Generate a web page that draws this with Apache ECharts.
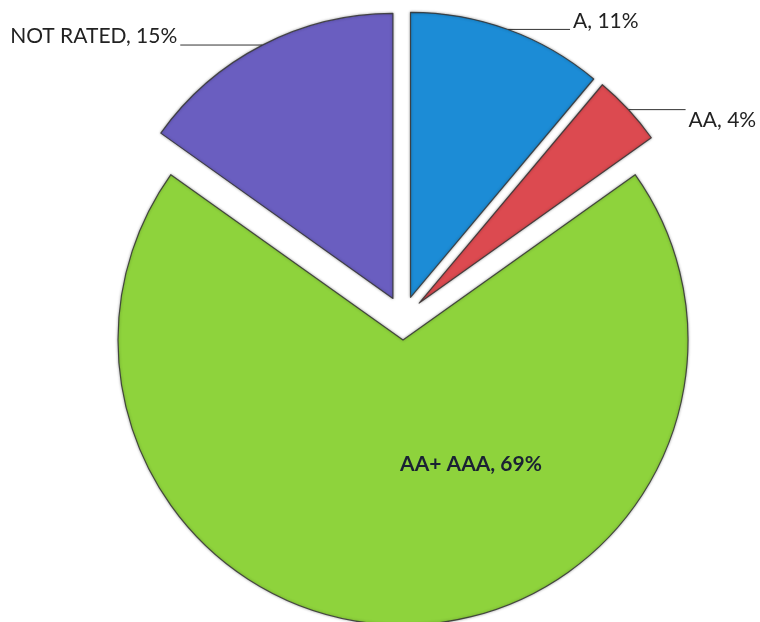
<!DOCTYPE html>
<html>
<head>
<meta charset="utf-8">
<script src="https://cdn.jsdelivr.net/npm/echarts@6/dist/echarts.min.js"></script>
<style>
html,body{margin:0;padding:0;background:#fff;}
#chart{width:760px;height:622px;}
</style>
</head>
<body>
<div id="chart"></div>
<script>
// ---- data ----
const categories = ['A', 'AA', 'AA+ AAA', 'NOT RATED'];
const values = [11, 4, 69, 15];
const colors = ['#1c8cd6', '#dc4a50', '#8ed33c', '#6a5ec0'];

// ---- label layout per slice (layout/style only) ----
// vertical nudge in px: negative = up, positive = down
const labelNudge = [-8, 11, -21, -9];
const labelStyles = [
  {line: {length: 0.1, length2: 62}, label: {}},
  {line: {length: 0.1, length2: 57}, label: {}},
  {line: {show: false}, label: {position: 'inside', padding: [0, 0, 0, 136]}},
  {line: {length: 0.1, length2: 82}, label: {}}
];

const chart = echarts.init(document.getElementById('chart'), null, {renderer: 'canvas'});

const rich = {
  t: {fontFamily: 'Lato', fontSize: 21, color: '#222', lineHeight: 26},
  b: {fontFamily: 'Lato', fontSize: 21, fontWeight: 'bold', color: '#1a2133', lineHeight: 26}
};
labelNudge.forEach((n, i) => {
  rich['g' + i] = {fontSize: 1, lineHeight: Math.abs(n) * 2, height: Math.abs(n) * 2};
});

const seriesData = categories.map((c, i) => ({
  name: c,
  value: values[i],
  selected: true,
  itemStyle: {color: colors[i]},
  label: labelStyles[i].label,
  labelLine: labelStyles[i].line
}));

chart.setOption({
  animation: false,
  series: [{
    type: 'pie',
    center: [403, 318],
    radius: [0, 285],
    startAngle: 90,
    clockwise: true,
    selectedMode: 'multiple',
    selectedOffset: 22,
    avoidLabelOverlap: false,
    emphasis: {disabled: true},
    itemStyle: {
      borderColor: 'rgba(50,50,50,0.85)',
      borderWidth: 1.2,
      shadowBlur: 3,
      shadowColor: 'rgba(0,0,0,0.35)'
    },
    label: {
      show: true,
      position: 'outside',
      formatter: p => {
        const i = p.dataIndex;
        const key = i === 2 ? 'b' : 't';
        const txt = '{' + key + '|' + p.name + ', ' + p.value + '%}';
        const gap = '{g' + i + '| }';
        return labelNudge[i] < 0 ? txt + '\n' + gap : gap + '\n' + txt;
      },
      rich: rich,
      distanceToLabelLine: 3
    },
    labelLine: {
      show: true,
      lineStyle: {color: '#333', width: 1}
    },
    data: seriesData
  }]
});
</script>
</body>
</html>
